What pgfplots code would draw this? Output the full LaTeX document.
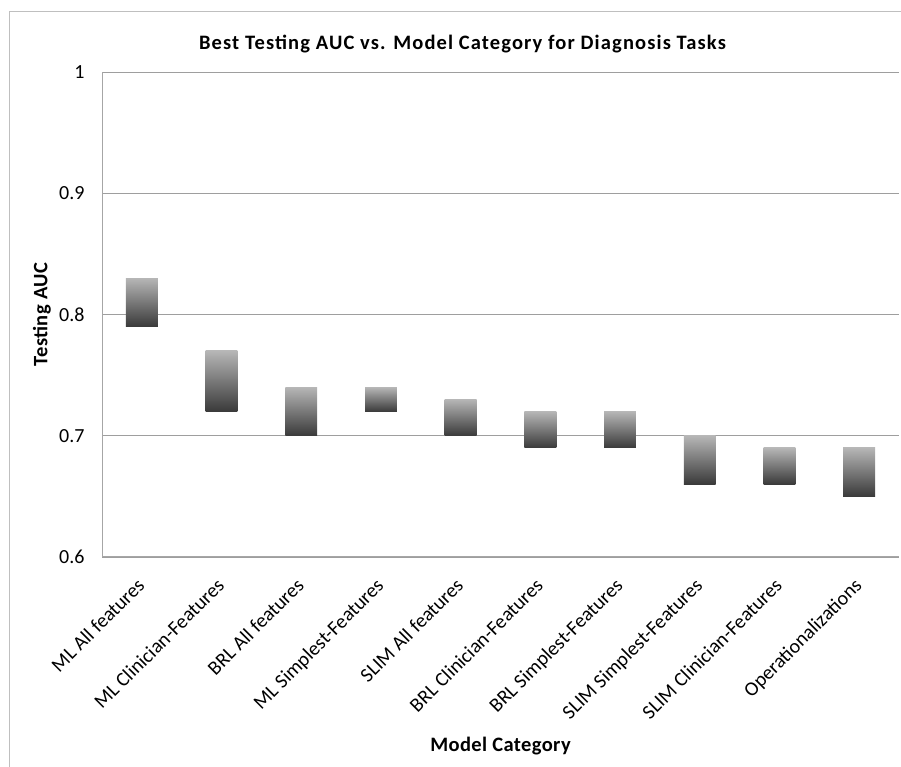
\documentclass[border=0pt]{standalone}
\usepackage{fontspec}
\setmainfont{Carlito}
\usepackage{pgfplots}
\pgfplotsset{compat=1.18}
\definecolor{barTop}{RGB}{182,182,182}
\definecolor{barMid}{RGB}{128,128,128}
\definecolor{barBot}{RGB}{58,58,58}
\pgfplotsset{rangebar/.style={draw=none, top color=barTop, middle color=barMid, bottom color=barBot}}
\begin{document}
\begin{tikzpicture}[x=1pt,y=1pt]
\useasboundingbox (0,0) rectangle (901,767);
\draw[black!25, line width=1pt] (9.5,0) -- (9.5,755) -- (901,755);
\begin{axis}[
  at={(102pt,210pt)}, anchor=south west,
  scale only axis, width=797pt, height=485pt,
  xmin=-0.5, xmax=9.5, ymin=0.6, ymax=1,
  xtick={0,...,9},
  xticklabels={ML All features, ML Clinician-Features, BRL All features, ML Simplest-Features, SLIM All features, BRL Clinician-Features, BRL Simplest-Features, SLIM Simplest-Features, SLIM Clinician-Features, Operationalizations},
  ytick={0.6,0.7,0.8,0.9,1},
  yticklabels={0.6,0.7,0.8,0.9,1},
  ymajorgrids, grid style={black!38, line width=0.9pt},
  axis x line*=bottom, axis y line*=left,
  axis line style={black!35, line width=1pt},
  major tick length=0pt, tick style={draw=none},
  tick label style={font=\fontsize{20}{24}\selectfont, text=black},
  /pgf/number format/assume math mode=true,
  yticklabel style={xshift=-14pt},
  xticklabel style={xshift=-6pt, yshift=-15pt, rotate=45, anchor=north east},
  title={Best Testing AUC vs. Model Category for Diagnosis Tasks},
  title style={font=\bfseries\fontsize{20.5}{24}\selectfont\addfontfeature{LetterSpace=5.5}, at={(axis description cs:0.5,1)}, anchor=center, yshift=22pt, xshift=-38pt},
  xlabel={Model Category},
  xlabel style={font=\bfseries\fontsize{20.5}{24}\selectfont\addfontfeature{LetterSpace=2}, at={(axis description cs:0.5,0)}, anchor=center, yshift=-189pt},
  ylabel={Testing AUC},
  ylabel style={font=\bfseries\fontsize{20.5}{24}\selectfont\addfontfeature{LetterSpace=2}, at={(axis description cs:0,0.5)}, anchor=center, yshift=60pt},
]
% each range bar: (x-0.2, low) to (x+0.2, high)
\addplot[rangebar] coordinates {(-0.2,0.79) (0.2,0.79) (0.2,0.83) (-0.2,0.83)} -- cycle;
\addplot[rangebar] coordinates {(0.8,0.72) (1.2,0.72) (1.2,0.77) (0.8,0.77)} -- cycle;
\addplot[rangebar] coordinates {(1.8,0.70) (2.2,0.70) (2.2,0.74) (1.8,0.74)} -- cycle;
\addplot[rangebar] coordinates {(2.8,0.72) (3.2,0.72) (3.2,0.74) (2.8,0.74)} -- cycle;
\addplot[rangebar] coordinates {(3.8,0.70) (4.2,0.70) (4.2,0.73) (3.8,0.73)} -- cycle;
\addplot[rangebar] coordinates {(4.8,0.69) (5.2,0.69) (5.2,0.72) (4.8,0.72)} -- cycle;
\addplot[rangebar] coordinates {(5.8,0.69) (6.2,0.69) (6.2,0.72) (5.8,0.72)} -- cycle;
\addplot[rangebar] coordinates {(6.8,0.66) (7.2,0.66) (7.2,0.70) (6.8,0.70)} -- cycle;
\addplot[rangebar] coordinates {(7.8,0.66) (8.2,0.66) (8.2,0.69) (7.8,0.69)} -- cycle;
\addplot[rangebar] coordinates {(8.8,0.65) (9.2,0.65) (9.2,0.69) (8.8,0.69)} -- cycle;
\end{axis}
\end{tikzpicture}
\end{document}
